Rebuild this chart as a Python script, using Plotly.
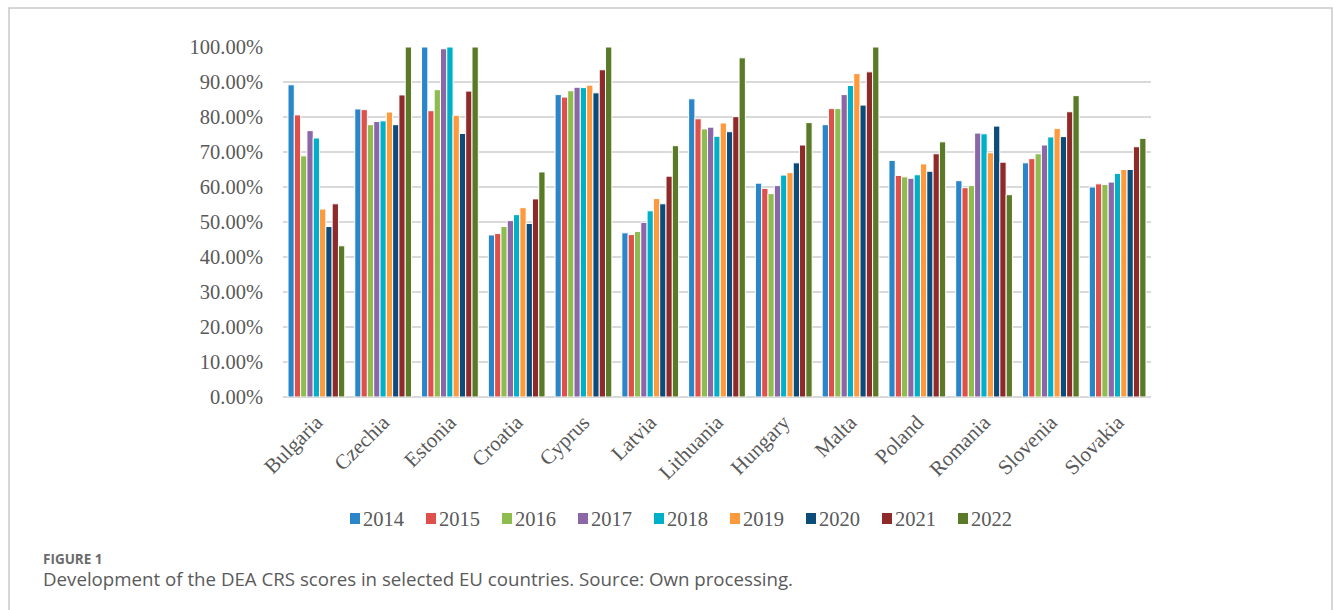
import numpy as np
import plotly.graph_objects as go

# DEA CRS efficiency scores (%) by country and year
countries = ["Bulgaria", "Czechia", "Estonia", "Croatia", "Cyprus", "Latvia",
             "Lithuania", "Hungary", "Malta", "Poland", "Romania", "Slovenia", "Slovakia"]
years = ["2014", "2015", "2016", "2017", "2018", "2019", "2020", "2021", "2022"]

s2014 = [89.2, 82.3, 100.0, 46.3, 86.4, 46.9, 85.2, 61.1, 77.8, 67.6, 61.8, 66.9, 60.0]
s2015 = [80.6, 82.1, 81.8, 46.7, 85.7, 46.4, 79.5, 59.6, 82.4, 63.3, 59.8, 68.1, 60.9]
s2016 = [68.9, 77.8, 87.8, 48.7, 87.5, 47.3, 76.6, 58.1, 82.4, 62.9, 60.4, 69.5, 60.7]
s2017 = [76.1, 78.7, 99.5, 50.4, 88.5, 49.9, 77.1, 60.4, 86.4, 62.5, 75.4, 72.0, 61.4]
s2018 = [74.0, 78.9, 100.0, 52.1, 88.4, 53.2, 74.5, 63.4, 89.0, 63.5, 75.2, 74.3, 63.9]
s2019 = [53.7, 81.4, 80.5, 54.1, 89.1, 56.7, 78.3, 64.1, 92.4, 66.6, 69.8, 76.7, 65.0]
s2020 = [48.7, 77.8, 75.3, 49.6, 86.9, 55.2, 75.8, 66.9, 83.4, 64.5, 77.4, 74.4, 65.0]
s2021 = [55.2, 86.3, 87.4, 56.6, 93.5, 63.1, 80.1, 72.0, 92.9, 69.5, 67.1, 81.5, 71.5]
s2022 = [43.2, 100.0, 100.0, 64.3, 100.0, 71.8, 96.9, 78.4, 100.0, 72.9, 57.8, 86.1, 73.9]

series = [s2014, s2015, s2016, s2017, s2018, s2019, s2020, s2021, s2022]
colors = ["#2a86c8", "#e0504a", "#8fbc4f", "#8b67a8", "#00b0c8",
          "#ff9a3c", "#0b4c7a", "#8e2a2a", "#5a7a28"]

W, H = 1333, 610
ML, MR, MT, MB = 283, 182, 47, 213
PW, PH = W - ML - MR, H - MT - MB


def px(x):
    return (x - ML) / PW


def py(y):
    return (H - MB - y) / PH


TEXT = "#595959"
SERIF = "Liberation Serif, Times New Roman, serif"

fig = go.Figure()
for yr, vals, col in zip(years, series, colors):
    fig.add_trace(go.Bar(
        name=yr, x=countries, y=np.array(vals) / 100.0,
        marker=dict(color=col, line=dict(color="white", width=1)),
        showlegend=False,
    ))

# legend row: coloured squares with year labels
shapes = []
annotations = []
lx0, lstep = 350.0, 76.0
for i, (yr, col) in enumerate(zip(years, colors)):
    x0 = lx0 + i * lstep
    shapes.append(dict(type="rect", xref="paper", yref="paper",
                       x0=px(x0), x1=px(x0 + 10), y0=py(524), y1=py(513),
                       fillcolor=col, line=dict(width=0)))
    annotations.append(dict(xref="paper", yref="paper", x=px(x0 + 11), y=py(518.5),
                            xanchor="left", yanchor="middle", showarrow=False,
                            text=yr, font=dict(family=SERIF, size=20.5, color=TEXT)))

# outer frame around the figure
shapes.append(dict(type="rect", xref="paper", yref="paper",
                   x0=px(9), x1=px(1332), y0=py(620), y1=py(8),
                   fillcolor="rgba(0,0,0,0)", line=dict(color="#c9c9c9", width=1.5)))

annotations.append(dict(xref="paper", yref="paper", x=px(41), y=py(559),
                        xanchor="left", yanchor="middle", showarrow=False,
                        text="<b>FIGURE 1</b>",
                        font=dict(family="Open Sans, sans-serif", size=13.5, color="#6b6b6b")))
annotations.append(dict(xref="paper", yref="paper", x=px(41), y=py(578),
                        xanchor="left", yanchor="middle", showarrow=False,
                        text="Development of the DEA CRS scores in selected EU countries. Source: Own processing.",
                        font=dict(family="Open Sans, sans-serif", size=18.7, color="#5a5a5a")))

fig.update_layout(
    width=W, height=H, autosize=False,
    margin=dict(l=ML, r=MR, t=MT, b=MB),
    paper_bgcolor="white", plot_bgcolor="white",
    barmode="group", bargap=0.15, bargroupgap=0,
    shapes=shapes, annotations=annotations,
    showlegend=False,
)
fig.update_xaxes(
    tickangle=-45, showgrid=False, showline=False, ticks="",
    ticklabelstandoff=8,
    tickfont=dict(family=SERIF, size=21, color=TEXT),
)
fig.update_yaxes(
    range=[0, 1.0], dtick=0.1, tickformat=".2%",
    showgrid=True, gridcolor="#d9d9d9", gridwidth=1.5,
    zeroline=True, zerolinecolor="#d9d9d9", zerolinewidth=1.5,
    showline=False, ticks="", ticklabelstandoff=19,
    tickfont=dict(family=SERIF, size=20.5, color=TEXT),
)

fig.write_html("out.html")
